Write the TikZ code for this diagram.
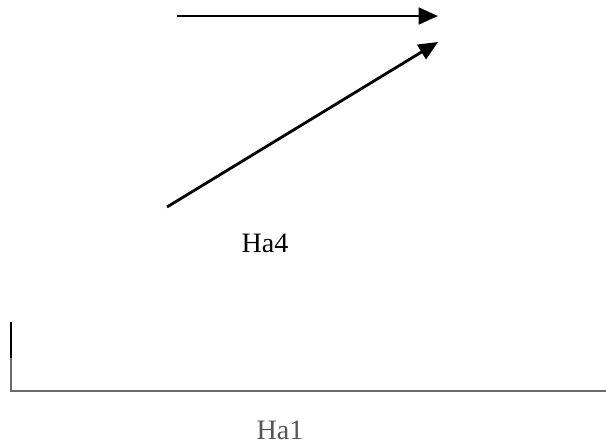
\documentclass[tikz,border=0pt]{standalone}
\usepackage{fontspec}
\setmainfont{Liberation Serif}
\usetikzlibrary{arrows.meta, positioning}
\definecolor{axGrey}{HTML}{555555}
\definecolor{lnGrey}{HTML}{6B6B6B}
\tikzset{
  vecline/.style  = {-{Triangle[length=11pt, width=9.5pt]}, line width=1.6pt, black},
  frameline/.style= {line width=1.1pt, lnGrey},
  lbl/.style      = {font=\fontsize{16}{19}\selectfont, inner sep=0pt},
}
\begin{document}
\begin{tikzpicture}[x=0.02cm, y=-0.02cm]
  \useasboundingbox (0,0) rectangle (606,447);
  % vectors
  \coordinate (t0) at (177,16);
  \coordinate (t1) at (438,16);
  \coordinate (d0) at (167,207);
  \coordinate (d1) at (438,42);
  \draw[vecline] (t0) -- (t1);
  \draw[vecline] (d0) -- (d1);
  \node[lbl] (ha4) at (265,243) {Ha4};
  % frame
  \coordinate (f0) at (11,322);
  \coordinate (fm) at (11,358);
  \coordinate (fc) at (11,391);
  \coordinate (f1) at (607,391);
  \draw[frameline] (fm) -- (fc) -- (f1);
  \draw[line width=1.1pt, black] (f0) -- (fm);
  \node[lbl, axGrey] (ha1) at (280,430) {Ha1};
\end{tikzpicture}
\end{document}
